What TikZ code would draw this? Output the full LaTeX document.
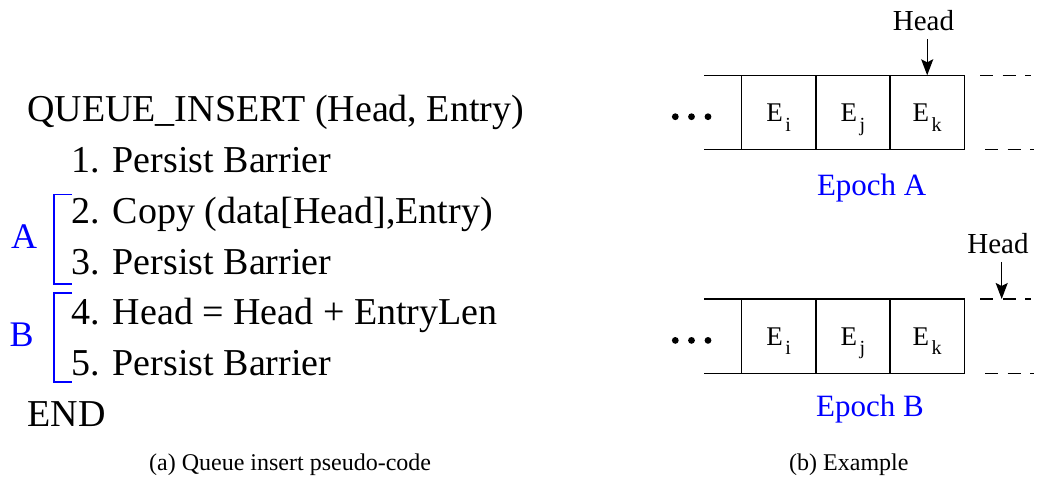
\documentclass[tikz,border=0pt]{standalone}
\usepackage{fontspec}
\setmainfont{Liberation Serif}
\usetikzlibrary{arrows.meta}
\definecolor{epochblue}{RGB}{0,0,255}
\newcommand{\qent}[1]{E\kern2.5pt\raisebox{-9.5pt}{\fontsize{20}{22}\selectfont #1}}
\tikzset{
  code/.style={anchor=base west, inner sep=0pt, font=\fontsize{38}{42}\selectfont},
  tag/.style={anchor=base west, inner sep=0pt, text=epochblue, font=\fontsize{36}{40}\selectfont},
  brace/.style={draw=epochblue, line width=1.4pt},
  subcap/.style={anchor=base west, inner sep=0pt, font=\fontsize{24}{27}\selectfont},
  rail/.style={line width=1.4pt},
  gap/.style={rail, dash pattern=on 13pt off 9.5pt},
  cell/.style={draw, line width=1.4pt, outer sep=0pt, minimum width=74.3pt, minimum height=74.4pt, inner sep=0pt},
  entry/.style={anchor=base, inner sep=0pt, font=\fontsize{27}{30}\selectfont},
  ptr/.style={-{Stealth[length=16pt,width=12pt,inset=3pt]}, line width=1.4pt, shorten <=5pt},
  epoch/.style={anchor=base, inner sep=0pt, text=epochblue, font=\fontsize{31}{34}\selectfont},
  headlbl/.style={anchor=base, inner sep=3pt, font=\fontsize{29}{32}\selectfont},
}

\begin{document}
\begin{tikzpicture}[x=1pt,y=-1pt]
    \useasboundingbox (0,0) rectangle (1037,480);

    % pseudo-code
    \node[code] (l0) at (27,121.7) {QUEUE\_INSERT (Head, Entry)};
    \node[code] (l1) at (71.5,172.5) {1. Persist Barrier};
    \node[code] (l2) at (71.5,223.3) {2. Copy (data[Head],Entry)};
    \node[code] (l3) at (71.5,274.1) {3. Persist Barrier};
    \node[code] (l4) at (71.5,324.9) {4. Head = Head + EntryLen};
    \node[code] (l5) at (71.5,375.7) {5. Persist Barrier};
    \node[code] (l6) at (27.5,426.5) {END};

    \node[tag] (ta) at (11,248.3) {A};
    \node[tag] (tb) at (9.5,346.7) {B};
    \draw[brace] (72,194.7) -| (54,284) -- (72,284);
    \draw[brace] (72,293) -| (54,382) -- (72,382);

    \node[subcap] (capa) at (149,470) {(a) Queue insert pseudo-code};

    % queue, epoch A
    \node[cell] (ia) at (778.7,112.5) {};
    \node[cell] (ja) at (852.9,112.5) {};
    \node[cell] (ka) at (927.2,112.5) {};
    \node[entry] (eia) at ([yshift=-9pt]ia.center) {\qent{i}};
    \node[entry] (eja) at ([yshift=-9pt]ja.center) {\qent{j}};
    \node[entry] (eka) at ([yshift=-9pt]ka.center) {\qent{k}};
    \coordinate (al) at (704.3,75.3);
    \coordinate (alb) at (704.3,149.7);
    \draw[rail] (al) -- (ia.north west);
    \draw[rail] (alb) -- (ia.south west);
    \coordinate (ad1) at (980,75.3);
    \coordinate (ad2) at (1031,75.3);
    \coordinate (ad3) at (985,149.7);
    \coordinate (ad4) at (1034,149.7);
    \draw[gap] (ad1) -- (ad2);
    \draw[gap] (ad3) -- (ad4);
    \foreach \x in {675.3,691.5,708} \fill (\x,116.7) circle (3.4pt);
    \node[headlbl] (ha) at (923.5,30.7) {Head};
    \draw[ptr] (ka.north |- ha.south) -- (ka.north);
    \node[epoch] (epa) at (871.7,195) {Epoch A};

    % queue, epoch B
    \node[cell] (ib) at (778.7,336.2) {};
    \node[cell] (jb) at (852.9,336.2) {};
    \node[cell] (kb) at (927.2,336.2) {};
    \node[entry] (eib) at ([yshift=-9pt]ib.center) {\qent{i}};
    \node[entry] (ejb) at ([yshift=-9pt]jb.center) {\qent{j}};
    \node[entry] (ekb) at ([yshift=-9pt]kb.center) {\qent{k}};
    \coordinate (bl) at (704.3,299);
    \coordinate (blb) at (704.3,373.4);
    \draw[rail] (bl) -- (ib.north west);
    \draw[rail] (blb) -- (ib.south west);
    \coordinate (bd1) at (980,299);
    \coordinate (bd2) at (1031,299);
    \coordinate (bd3) at (985,373.4);
    \coordinate (bd4) at (1034,373.4);
    \draw[gap] (bd1) -- (bd2);
    \draw[gap] (bd3) -- (bd4);
    \foreach \x in {675.3,691.5,708} \fill (\x,340.4) circle (3.4pt);
    \node[headlbl] (hb) at (998,253.3) {Head};
    \coordinate (hbt) at (1001.7,299);
    \draw[ptr] (hbt |- hb.south) -- (hbt);
    \node[epoch] (epb) at (870,416.7) {Epoch B};

    \node[subcap] (capb) at (789,470) {(b) Example};
\end{tikzpicture}
\end{document}
